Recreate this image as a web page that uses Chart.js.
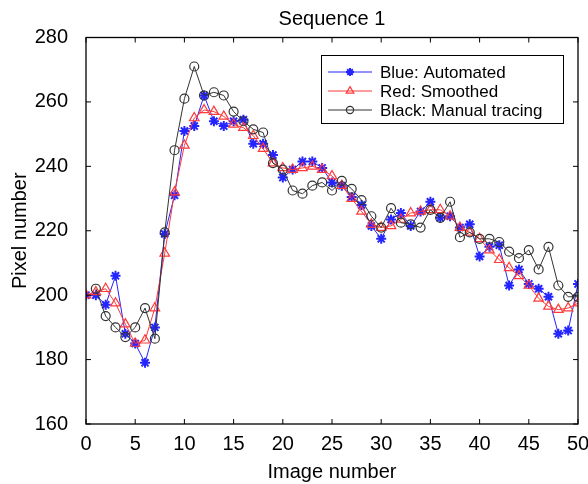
<!DOCTYPE html>
<html>
<head>
<meta charset="utf-8">
<script src="https://cdn.jsdelivr.net/npm/chart.js@4/dist/chart.umd.min.js"></script>
<style>
  html, body { margin: 0; padding: 0; background: #fff; }
  canvas { display: block; }
</style>
</head>
<body>
<canvas id="seqChart" width="588" height="484"></canvas>
<script>
// image index along the sequence
const imageNumbers = [0, 1, 2, 3, 4, 5, 6, 7, 8, 9, 10, 11, 12, 13, 14, 15, 16, 17, 18, 19, 20,
    21, 22, 23, 24, 25, 26, 27, 28, 29, 30, 31, 32, 33, 34, 35, 36, 37, 38, 39, 40,
    41, 42, 43, 44, 45, 46, 47, 48, 49, 50];

// Blue: Automated
const automated = [200, 200, 197, 206, 188, 185, 179, 190, 219, 231, 251, 252.5, 262, 254, 252.5, 254, 254.5, 247, 247, 243.5, 236.5,
    239, 241.5, 241.5, 239.5, 235, 234, 230.5, 228, 221.5, 217.5, 223.5, 225.5, 221.5, 226, 229, 224, 224.5, 221, 222, 212,
    215, 215.5, 203, 208, 203.5, 202, 199.5, 188, 189, 203.5];

// Red: Smoothed
const smoothed = [200, 201, 202, 197.5, 191, 185, 186, 196, 213, 232, 246.5, 255, 257.5, 257, 255.5, 253, 252, 249.5, 245.5, 241, 239.5,
    239, 239.5, 240, 239, 237, 234, 230, 226, 222, 221, 221.5, 223.5, 225.5, 226, 226.5, 226.5, 224.5, 221, 219.5, 217.5,
    214, 211, 208.5, 206, 203, 199, 196.5, 195.5, 196, 197.5];

// Black: Manual tracing (no value at image 0)
const manual = [null, 202, 193.5, 190, 187, 190, 196, 186.5, 219.5, 245, 261, 271, 262, 263, 262, 257, 254, 251.5, 250.5, 241, 239,
    232.5, 231.5, 234, 235, 232.5, 235.5, 233, 229.5, 224.5, 221, 227, 222.5, 222, 221, 226.5, 224, 229, 218, 219.5, 217.5,
    217.5, 216.5, 213.5, 211.5, 214, 208, 215, 203, 199.5, 199.5];

const seriesNames = ['Blue: Automated', 'Red: Smoothed', 'Black: Manual tracing'];
const xTicks = [0, 5, 10, 15, 20, 25, 30, 35, 40, 45, 50];
const yTicks = [160, 180, 200, 220, 240, 260, 280];

function toPoints(vals) {
    return imageNumbers.map((x, i) => ({ x: x, y: vals[i] }));
}

const FONT = 'Liberation Sans, Arial, Helvetica, sans-serif';

// MATLAB style box with inward ticks on all four sides
const boxPlugin = {
    id: 'boxTicks',
    afterDatasetsDraw(chart) {
        const { ctx, chartArea: a, scales } = chart;
        ctx.save();
        ctx.strokeStyle = '#000';
        ctx.lineWidth = 1.3;
        ctx.strokeRect(a.left, a.top, a.right - a.left, a.bottom - a.top);
        ctx.lineWidth = 1;
        ctx.beginPath();
        xTicks.forEach(v => {
            const px = scales.x.getPixelForValue(v);
            ctx.moveTo(px, a.bottom); ctx.lineTo(px, a.bottom - 5);
            ctx.moveTo(px, a.top); ctx.lineTo(px, a.top + 5);
        });
        yTicks.forEach(v => {
            const py = scales.y.getPixelForValue(v);
            ctx.moveTo(a.left, py); ctx.lineTo(a.left + 5, py);
            ctx.moveTo(a.right, py); ctx.lineTo(a.right - 5, py);
        });
        ctx.stroke();
        ctx.restore();
    }
};

// legend box in the upper right, line + marker samples
const legendPlugin = {
    id: 'boxLegend',
    afterDraw(chart) {
        const ctx = chart.ctx;
        const bx = 321, by = 55, bw = 242, bh = 68;
        ctx.save();
        ctx.fillStyle = '#fff';
        ctx.fillRect(bx, by, bw, bh);
        ctx.strokeStyle = '#000';
        ctx.lineWidth = 1;
        ctx.strokeRect(bx + 0.5, by + 0.5, bw, bh);
        ctx.font = '17px ' + FONT;
        ctx.textBaseline = 'middle';
        chart.data.datasets.forEach((ds, i) => {
            const y = by + 17 + i * 19;
            ctx.strokeStyle = ds.borderColor;
            ctx.lineWidth = 1;
            ctx.beginPath();
            ctx.moveTo(bx + 7, y); ctx.lineTo(bx + 51, y);
            ctx.stroke();
            ctx.fillStyle = ds.pointBackgroundColor;
            ctx.strokeStyle = ds.borderColor;
            ctx.lineWidth = ds.pointBorderWidth;
            Chart.helpers.drawPoint(ctx, { pointStyle: ds.pointStyle, radius: ds.pointRadius * 0.8, rotation: 0, borderWidth: ds.pointBorderWidth }, bx + 29, y);
            ctx.fillStyle = '#000';
            ctx.fillText(ds.label, bx + 59, y + 1);
        });
        ctx.restore();
    }
};

const ctx = document.getElementById('seqChart').getContext('2d');
new Chart(ctx, {
    type: 'line',
    data: {
        datasets: [{
            label: seriesNames[0],
            data: toPoints(automated),
            borderColor: '#2424ff',
            backgroundColor: '#2424ff',
            pointBackgroundColor: '#2424ff',
            pointStyle: 'star',
            pointRadius: 5,
            pointBorderWidth: 2,
            borderWidth: 1,
            tension: 0,
            order: 2
        }, {
            label: seriesNames[1],
            data: toPoints(smoothed),
            borderColor: '#ff3a3a',
            backgroundColor: 'rgba(0,0,0,0)',
            pointBackgroundColor: 'rgba(0,0,0,0)',
            pointStyle: 'triangle',
            pointRadius: 5.5,
            pointBorderWidth: 1.2,
            borderWidth: 1,
            tension: 0,
            order: 1
        }, {
            label: seriesNames[2],
            data: toPoints(manual),
            borderColor: '#333333',
            backgroundColor: 'rgba(0,0,0,0)',
            pointBackgroundColor: 'rgba(0,0,0,0)',
            pointStyle: 'circle',
            pointRadius: 4.5,
            pointBorderWidth: 1.2,
            borderWidth: 1,
            tension: 0,
            order: 0
        }]
    },
    options: {
        responsive: false,
        animation: false,
        layout: { padding: { top: 0, right: 10, bottom: 0, left: 0 } },
        plugins: {
            legend: { display: false },
            tooltip: { enabled: false },
            title: {
                display: true,
                fullSize: false,
                text: 'Sequence 1',
                color: '#000',
                font: { family: FONT, size: 20, weight: 'normal' },
                padding: { top: 7, bottom: 6.5 }
            }
        },
        scales: {
            x: {
                type: 'linear',
                min: 0,
                max: 50,
                grid: { display: false },
                border: { display: false },
                ticks: {
                    stepSize: 5,
                    color: '#000',
                    padding: 0,
                    maxRotation: 0,
                    font: { family: FONT, size: 20 }
                },
                title: {
                    display: true,
                    text: 'Image number',
                    color: '#000',
                    font: { family: FONT, size: 20 },
                    padding: { top: 0, bottom: 0 }
                },
                afterFit(scale) {
                    scale.height = 60;
                    scale.paddingLeft = 0;
                    scale.paddingRight = 0;
                }
            },
            y: {
                min: 160,
                max: 280,
                grid: { display: false },
                border: { display: false },
                ticks: {
                    stepSize: 20,
                    color: '#000',
                    padding: 10,
                    font: { family: FONT, size: 20 }
                },
                title: {
                    display: true,
                    text: 'Pixel number',
                    color: '#000',
                    font: { family: FONT, size: 20 },
                    padding: { top: 8, bottom: 0 }
                },
                afterFit(scale) { scale.width = 86; }
            }
        }
    },
    plugins: [boxPlugin, legendPlugin]
});
</script>
</body>
</html>
